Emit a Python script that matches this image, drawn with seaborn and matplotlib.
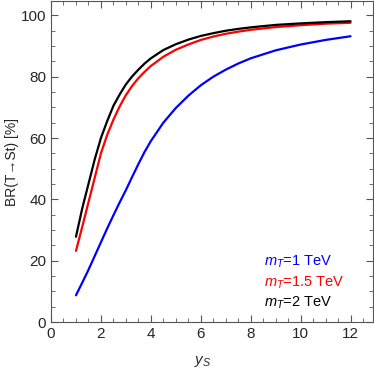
import numpy as np
import pandas as pd
import matplotlib
matplotlib.use("Agg")
import matplotlib.pyplot as plt
from matplotlib.ticker import MultipleLocator
import seaborn as sns

# y_S values and BR(T->St) in percent
y_s = [1, 1.25, 1.5, 1.75, 2, 2.25, 2.5, 2.75, 3, 3.25, 3.5, 3.75, 4, 4.5, 5, 5.5,
       6, 6.5, 7, 7.5, 8, 9, 10, 11, 12]
br_1tev = [8.7, 12.8, 17.0, 21.5, 26.0, 30.5, 34.8, 39.0, 43.0, 47.3, 51.5, 55.5, 59.0,
           65.0, 69.8, 73.8, 77.2, 80.0, 82.3, 84.3, 86.0, 88.6, 90.5, 92.0, 93.2]
br_15tev = [23.2, 31.0, 39.0, 47.0, 55.0, 61.0, 66.0, 70.3, 74.0, 77.0, 79.5, 81.6, 83.5,
            86.5, 88.8, 90.5, 92.0, 93.1, 94.0, 94.7, 95.3, 96.2, 96.8, 97.3, 97.6]
br_2tev = [27.8, 37.0, 45.0, 53.0, 60.0, 65.5, 70.5, 74.2, 77.5, 80.1, 82.3, 84.3, 86.0,
           88.7, 90.6, 92.1, 93.3, 94.2, 95.0, 95.6, 96.1, 96.9, 97.4, 97.8, 98.1]

labels = ["$m_T$=1 TeV", "$m_T$=1.5 TeV", "$m_T$=2 TeV"]
colors = ["#0000ff", "#ff0000", "#000000"]

df = pd.DataFrame({
    "ys": y_s * 3,
    "br": br_1tev + br_15tev + br_2tev,
    "mass": [labels[0]] * len(y_s) + [labels[1]] * len(y_s) + [labels[2]] * len(y_s),
})

sns.set_style("ticks")
plt.rcParams["font.family"] = ["Liberation Sans", "DejaVu Sans"]
plt.rcParams["mathtext.fontset"] = "custom"
plt.rcParams["mathtext.rm"] = "Liberation Sans"
plt.rcParams["mathtext.it"] = "Liberation Sans:italic"

fig = plt.figure(figsize=(3.74, 3.68), dpi=100)
ax = fig.add_axes([51 / 374, 46 / 368, 322 / 374, 321 / 368])

sns.lineplot(
    data=df, x="ys", y="br", hue="mass",
    palette=dict(zip(labels, colors)),
    linewidth=1.6, legend=False, ax=ax,
)

ax.set_xlim(0, 12.9)
ax.set_ylim(0, 104.7)
ax.xaxis.set_major_locator(MultipleLocator(2))
ax.xaxis.set_minor_locator(MultipleLocator(0.5))
ax.yaxis.set_major_locator(MultipleLocator(20))
ax.yaxis.set_minor_locator(MultipleLocator(5))
ax.tick_params(which="both", direction="in", top=True, right=True,
               labelsize=11, color="#555555")
ax.tick_params(which="major", length=5)
ax.tick_params(which="minor", length=3)
for s in ax.spines.values():
    s.set_color("#555555")
    s.set_linewidth(0.8)

ax.set_xlabel("$y_S$", fontsize=11)
ax.set_ylabel("BR(T→St) [%]", fontsize=10)
ax.xaxis.set_label_coords(0.47, -0.1)
ax.yaxis.set_label_coords(-0.1, 0.5)

for i, (lab, col) in enumerate(zip(labels, colors)):
    ax.text(8.55, 19.5 - 6.7 * i, lab, color=col, fontsize=10.5, va="center")

fig.savefig("out.png", dpi=100)
